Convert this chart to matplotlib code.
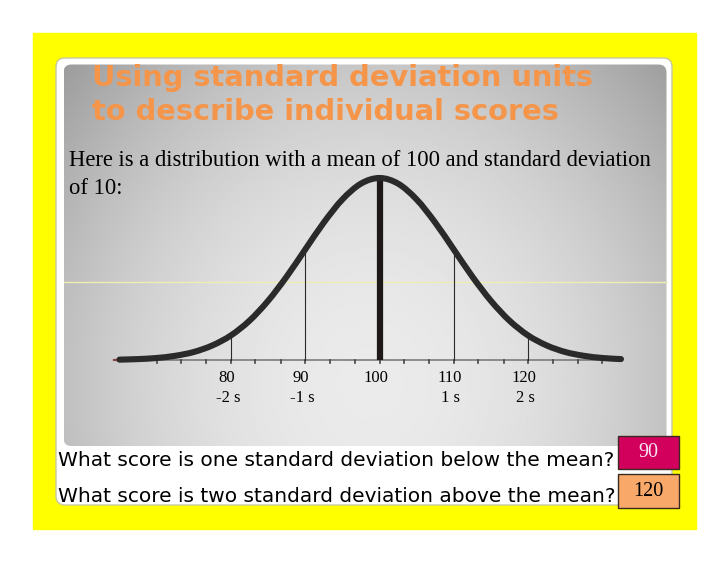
import numpy as np
import matplotlib
matplotlib.use("Agg")
import matplotlib.pyplot as plt
from matplotlib.patches import FancyBboxPatch, Rectangle, PathPatch
from matplotlib.path import Path

# values
scores = [80, 90, 100, 110, 120]
sd_labels = ["-2 s", "-1 s", "", "1 s", "2 s"]
marker_h = [0.135, 0.607, 1.0, 0.607, 0.135]
minor_ticks = [70, 73.3, 76.7, 80, 83.3, 86.7, 90, 93.3, 96.7, 100,
               103.3, 106.7, 110, 113.3, 116.7, 120, 123.3, 126.7, 130]
curve_x = [65, 67.5, 70, 72.5, 75, 77.5, 80, 82.5, 85, 87.5, 90, 92.5, 95, 97.5,
           100, 102.5, 105, 107.5, 110, 112.5, 115, 117.5, 120, 122.5, 125,
           127.5, 130, 132.5]
curve_h = [0.002, 0.005, 0.011, 0.023, 0.044, 0.080, 0.135, 0.216, 0.325,
           0.458, 0.607, 0.755, 0.882, 0.969, 1.000, 0.969, 0.882, 0.755,
           0.607, 0.458, 0.325, 0.216, 0.135, 0.080, 0.044, 0.023, 0.011,
           0.005]
questions = ["What score is one standard deviation below the mean?",
             "What score is two standard deviation above the mean?"]
answers = ["90", "120"]


def smooth_path(xs, ys):
    # catmull-rom through the points, drawn as cubic bezier segments
    p = np.column_stack([xs, ys]).astype(float)
    p = np.vstack([p[0], p, p[-1]])
    verts = [p[1]]
    codes = [Path.MOVETO]
    for i in range(1, len(p) - 2):
        c1 = p[i] + (p[i + 1] - p[i - 1]) / 6
        c2 = p[i + 1] - (p[i + 2] - p[i]) / 6
        verts += [c1, c2, p[i + 1]]
        codes += [Path.CURVE4] * 3
    return Path(verts, codes)


W, H = 728, 563
fig = plt.figure(figsize=(W / 100, H / 100), dpi=100)

# background layer in pixel units
bg = fig.add_axes([0, 0, 1, 1])
bg.set_xlim(0, W)
bg.set_ylim(H, 0)
bg.axis("off")

bg.add_patch(Rectangle((33, 33), 663, 496, color="#ffff00", zorder=0))
bg.add_patch(FancyBboxPatch((56, 58), 616, 447, boxstyle="round,pad=0,rounding_size=9",
                            fc="white", ec="#c8c8a0", lw=1.0, zorder=1))

# gray radial gradient panel
gx = np.linspace(63.5, 666.5, 300)
gy = np.linspace(64.5, 446, 200)
X, Y = np.meshgrid(gx, gy)
r2 = ((X - 370) / 310) ** 2 + ((Y - 385) / 350) ** 2
val = np.clip(0.92 - 0.17 * r2, 0.6, 1)
panel = FancyBboxPatch((63.5, 64.5), 603, 381.5, boxstyle="round,pad=0,rounding_size=8",
                       fc="none", ec="none", zorder=2)
bg.add_patch(panel)
im = bg.imshow(val, cmap="gray", vmin=0, vmax=1, extent=[63.5, 666.5, 446, 64.5],
               aspect="auto", interpolation="bilinear", zorder=2)
im.set_clip_path(panel)

bg.plot([63.5, 666.5], [281.5, 281.5], color="#eeeeb4", lw=1.0, zorder=3)

bg.text(92, 78, "Using standard deviation units", fontsize=20.8, fontweight="bold",
        color="#f5954a", va="center", ha="left", family="DejaVu Sans", zorder=4)
bg.text(92, 112, "to describe individual scores", fontsize=20.8, fontweight="bold",
        color="#f5954a", va="center", ha="left", family="DejaVu Sans", zorder=4)
bg.text(69, 161, "Here is a distribution with a mean of 100 and standard deviation",
        fontsize=16.3, family="Liberation Serif", va="center", ha="left", zorder=4)
bg.text(69, 189, "of 10:", fontsize=16.3, family="Liberation Serif",
        va="center", ha="left", zorder=4)

box_colors = ["#d2005c", "#f8a868"]
text_colors = ["#f8e4f4", "black"]
for i, (q, a) in enumerate(zip(questions, answers)):
    yc = 460 + 36 * i
    bg.text(58, yc, q, fontsize=14.5, family="DejaVu Sans", va="center", ha="left", zorder=4)
    by = [435.5, 474][i]
    bh = [33.5, 34][i]
    bg.add_patch(Rectangle((618, by), 61, bh, fc=box_colors[i], ec="#3a2a20", lw=1.0, zorder=4))
    bg.text(648.5, by + bh / 2, a, fontsize=14.5, family="Liberation Serif",
            color=text_colors[i], va="center", ha="center", zorder=5)

# the distribution, drawn in score units
px_left, px_right, px_top, px_bot = 100, 640, 150, 380
ax = fig.add_axes([px_left / W, 1 - px_bot / H, (px_right - px_left) / W, (px_bot - px_top) / H])
ax.set_xlim(100 + (px_left - 379.5) / 7.43, 100 + (px_right - 379.5) / 7.43)
ax.set_ylim(-(px_bot - 360) / 182, 1 + (178 - px_top) / 182)
ax.axis("off")
ax.patch.set_alpha(0)

ax.plot([64.3, 132.4], [0, 0], color="#7c7c7c", lw=1.2, zorder=2)
ax.plot([64.3, 65.3], [0, 0], color="#8a4646", lw=1.6, zorder=2)
for t in minor_ticks:
    ax.plot([t, t], [0, -0.018], color="#444444", lw=1.2, zorder=2)

for s, h in zip(scores, marker_h):
    if s == 100:
        ax.plot([s, s], [0, h], color="#1e1818", lw=4.5, solid_capstyle="butt", zorder=4)
    else:
        ax.plot([s, s], [0, h], color="#2a2a2a", lw=0.8, zorder=3)

ax.add_patch(PathPatch(smooth_path(curve_x, curve_h), fc="none", ec="#2a2a2a",
                       lw=4.4, joinstyle="round", capstyle="round", zorder=5))

for s, lab in zip(scores, sd_labels):
    ax.annotate(str(s), (s, 0), xytext=(-4, -18), textcoords="offset pixels",
                ha="center", va="center", fontsize=12, family="Liberation Serif")
    if lab:
        ax.annotate(lab, (s, 0), xytext=(-3, -38), textcoords="offset pixels",
                    ha="center", va="center", fontsize=12, family="Liberation Serif")

fig.savefig("out.png", dpi=100)
